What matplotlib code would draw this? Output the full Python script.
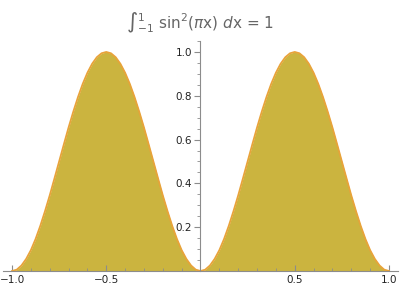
import matplotlib
matplotlib.use("Agg")
import matplotlib.pyplot as plt
from matplotlib.ticker import MultipleLocator, FixedLocator

# une bosse, de x=0 a x=0.5 (pas de 0.025)
hump_up = [0.000, 0.006, 0.025, 0.055, 0.095, 0.146, 0.206, 0.273, 0.345, 0.422,
           0.500, 0.578, 0.655, 0.727, 0.794, 0.854, 0.905, 0.946, 0.976, 0.994]
hump_down = [1.000, 0.994, 0.976, 0.946, 0.905, 0.854, 0.794, 0.727, 0.655, 0.578,
             0.500, 0.422, 0.345, 0.273, 0.206, 0.146, 0.095, 0.055, 0.025, 0.006]
y_vals = hump_up + hump_down + hump_up + hump_down + [0.000]
x_vals = [-1 + 0.025 * i for i in range(len(y_vals))]
x_ticks = [-1.0, -0.5, 0.5, 1.0]
y_ticks = [0.2, 0.4, 0.6, 0.8, 1.0]
title = "\u222B$_{-1}^{1}$ sin$^{2}$($\\pi$x) $d$x = 1"

plt.rcParams['mathtext.fontset'] = 'dejavusans'
fig = plt.figure(figsize=(4, 3), dpi=100)
ax = fig.add_axes([0.0065, 0.0967, 0.9895, 0.7666])

axis_col = "#8c8c8c"
ax.fill_between(x_vals, y_vals, 0, color="#cbb43f", lw=0)
ax.plot(x_vals, y_vals, color="#e8a33a", lw=1.3, clip_on=False, solid_joinstyle="round")

ax.set_xlim(-1.05, 1.05)
ax.set_ylim(0, 1.05)

for s in ["top", "right"]:
    ax.spines[s].set_visible(False)
ax.spines["left"].set_position(("data", 0))
ax.spines["bottom"].set_position(("data", 0))
ax.spines["left"].set_color(axis_col)
ax.spines["bottom"].set_color(axis_col)
ax.spines["left"].set_zorder(5)
ax.spines["bottom"].set_zorder(5)

ax.xaxis.set_major_locator(FixedLocator(x_ticks))
ax.xaxis.set_minor_locator(MultipleLocator(0.1))
ax.yaxis.set_major_locator(FixedLocator(y_ticks))
ax.yaxis.set_minor_locator(MultipleLocator(0.05))
ax.set_xticklabels([f"{t:.1f}".replace("-", "\u2212") for t in x_ticks])
ax.set_yticklabels([f"{t:.1f}" for t in y_ticks])

ax.tick_params(axis="x", which="major", direction="in", length=4, color=axis_col,
               labelsize=7.5, pad=3, labelcolor="#222222")
ax.tick_params(axis="x", which="minor", direction="in", length=2, color=axis_col)
ax.tick_params(axis="y", which="major", direction="out", length=4, color=axis_col,
               labelsize=7.5, pad=2, labelcolor="#222222")
ax.tick_params(axis="y", which="minor", direction="out", length=2, color=axis_col)

fig.text(0.5, 0.925, title, ha="center", va="center", fontsize=11, color="#666666")

fig.savefig("out.png", dpi=100)
